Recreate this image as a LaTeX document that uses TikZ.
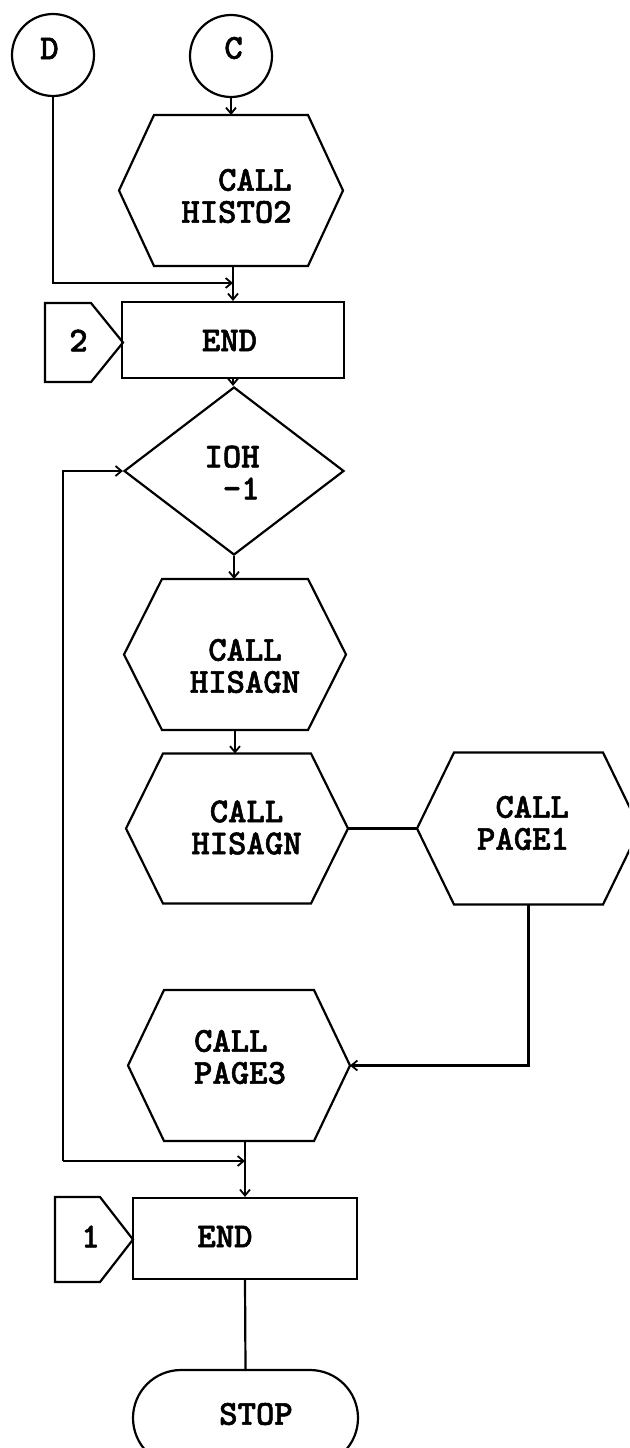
\documentclass[tikz,border=0pt]{standalone}
\usepackage{fontspec}
\newfontfamily\heavytt{lmmonolt10-bold.otf}[FakeBold=1.5]
\usetikzlibrary{arrows.meta,shapes.geometric}
\tikzset{
  fl/.style={line width=2.2pt, line join=miter},
  holder/.style={shape=rectangle, inner sep=0pt, outer sep=0pt},
  conn/.style={circle, draw, line width=2.2pt, minimum size=82pt, inner sep=0pt},
  boxs/.style={rectangle, draw, line width=2.2pt, inner sep=0pt},
  txt/.style={font=\heavytt\fontsize{35}{32}\selectfont, inner sep=0pt},
  arr/.style={fl, -{Straight Barb[length=6pt,width=10pt,line width=1.8pt]}},
  ln/.style={fl},
}
\newcommand\hexout[2]{\draw[fl] (#1.west) -- ([xshift=#2]#1.north west) -- ([xshift=-#2]#1.north east) -- (#1.east) -- ([xshift=-#2]#1.south east) -- ([xshift=#2]#1.south west) -- cycle;}
\newcommand\pentout[2]{\draw[fl] (#1.north west) -- ([xshift=-#2]#1.north east) -- (#1.east) -- ([xshift=-#2]#1.south east) -- (#1.south west) -- cycle;}
\begin{document}
\begin{tikzpicture}[x=1pt,y=-1pt]
\useasboundingbox (0,0) rectangle (629,1448);
\fill[white] (0,0) rectangle (629,1448);
\clip (0,0) rectangle (629,1448);

% connectors circles
\node[conn] (D) at (53,55) {};
\node[conn] (C) at (231,56) {};
\node[txt] (tD) at (49.5,48.5) {D};
\node[txt] (tC) at (233.5,48) {C};

% CALL HISTO2
\node[holder, minimum width=224pt, minimum height=151pt] (h1) at (231,190.5) {};
\hexout{h1}{35pt}
\node[txt, align=right] (t1) at (236.5,196) {CALL\\HISTO2};

% END 1 with entry 2
\node[boxs, minimum width=222pt, minimum height=76pt] (e1) at (233,340) {};
\node[txt] (tE1) at (229.5,340.5) {END};
\node[holder, minimum width=78pt, minimum height=79pt] (p2) at (84,342.5) {};
\pentout{p2}{32pt}
\node[txt] (t2) at (78.5,340.5) {2};

% decision
\node[diamond, draw, line width=2.2pt, inner sep=0pt, minimum width=220pt, minimum height=168pt] (dm) at (234,471) {};
\node[txt, align=right] (tI) at (232,472.5) {IOH\\-1};

% CALL HISAGN (1)
\node[holder, minimum width=222pt, minimum height=151pt] (h2) at (235,654.5) {};
\hexout{h2}{38pt}
\node[txt, align=center] (t3) at (245,666) {CALL\\HISAGN};

% CALL HISAGN (2)
\node[holder, minimum width=222pt, minimum height=150pt] (h3) at (237,828.5) {};
\hexout{h3}{37pt}
\node[txt, align=center] (t4) at (246.5,827.5) {CALL\\HISAGN};

% CALL PAGE1
\node[holder, minimum width=223pt, minimum height=152pt] (h4) at (528.5,828.5) {};
\hexout{h4}{37pt}
\node[txt, align=right] (t5) at (523,823) {CALL\\PAGE1};

% CALL PAGE3
\node[holder, minimum width=222pt, minimum height=151pt] (h5) at (239,1065.5) {};
\hexout{h5}{36pt}
\node[txt, align=left] (t6) at (240,1057) {CALL\\PAGE3};

% END 2 with entry 1
\node[boxs, minimum width=224pt, minimum height=81pt] (e2) at (245,1238.5) {};
\node[txt] (tE2) at (225,1236.5) {END};
\node[holder, minimum width=78pt, minimum height=85pt] (p1) at (94,1239.5) {};
\pentout{p1}{33pt}
\node[txt] (t7) at (90.5,1236.5) {1};

% STOP
\node[rectangle, draw, line width=2.2pt, rounded corners=48pt, minimum width=225pt, minimum height=96pt] (stop) at (245.5,1418) {};
\node[txt] (tS) at (256,1414) {STOP};

% connector lines
\coordinate (j1) at (233,283);
\coordinate (j2) at (245,1161);
\coordinate (lpA) at (63,471);
\coordinate (lpB) at (63,1161);

\draw[arr] (C.south) -- (C.south |- h1.north);
\draw[arr] (h1.south -| e1.north) -- (e1.north);
\draw[arr] (D.south) |- (j1);
\draw[arr] (e1.south) -- (e1.south |- dm.north);
\draw[arr] (dm.south) -- (dm.south |- h2.north);
\draw[arr] (h2.south) -- (h2.south |- h3.north);
\draw[ln] (h3.east) -- (h4.west);
\draw[arr] (h4.south) |- (h5.east);
\draw[arr] (e2.north |- h5.south) -- (e2.north);
\draw[arr] (lpB) -- (lpA) -- (dm.west);
\draw[arr] (lpB) -- (j2);
\draw[ln] (e2.south) -- (stop.north);
\end{tikzpicture}
\end{document}
